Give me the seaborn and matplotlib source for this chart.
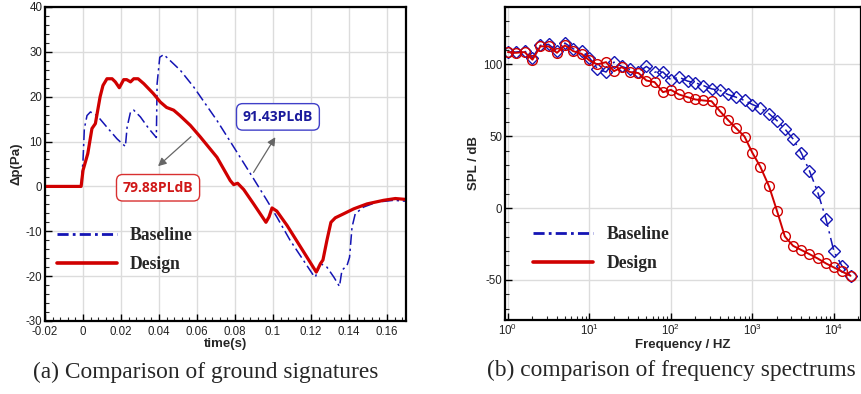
import numpy as np
import pandas as pd
import matplotlib
matplotlib.use("Agg")
import matplotlib.pyplot as plt
import matplotlib.ticker as mticker
from matplotlib.lines import Line2D
import seaborn as sns

# ground signatures (a)
t_design = [-0.02, -0.001, 0.0, 0.0025, 0.0047, 0.0065, 0.009, 0.0105, 0.0126, 0.0153,
            0.017, 0.0191, 0.0214, 0.023, 0.025, 0.0267, 0.029, 0.032, 0.037, 0.0407,
            0.044, 0.0477, 0.051, 0.0565, 0.0618, 0.0705, 0.0775, 0.0793, 0.0814, 0.0846,
            0.0898, 0.0963, 0.0979, 0.0995, 0.102, 0.1074, 0.1228, 0.125, 0.1263, 0.1284,
            0.1305, 0.1328, 0.1372, 0.1425, 0.1495, 0.1582, 0.1644, 0.17]
dp_design = [0, 0, 3.6, 7.3, 12.9, 14, 20, 22.5, 24, 24,
             23.3, 22, 23.8, 23.8, 23.3, 24, 24, 22.9, 20.7, 18.8,
             17.6, 17, 15.8, 13.6, 11, 6.5, 1.3, 0.4, 0.7, -0.7,
             -3.9, -8, -6.8, -4.8, -5.5, -8.7, -19.1, -17.2, -16.4, -12,
             -8, -7, -6.1, -5, -3.9, -3.1, -2.7, -2.9]

t_base = [-0.02, -0.001, 0.0, 0.0007, 0.0021, 0.0039, 0.0074, 0.0126, 0.0179, 0.0223,
          0.0232, 0.025, 0.0267, 0.0302, 0.0346, 0.0386, 0.039, 0.0404, 0.0425, 0.0512,
          0.0582, 0.0705, 0.0793, 0.0898, 0.0968, 0.102, 0.109, 0.1214, 0.1223, 0.125,
          0.1284, 0.132, 0.135, 0.1363, 0.139, 0.1403, 0.1416, 0.1433, 0.1477, 0.1547,
          0.1635, 0.17]
dp_base = [0, 0, 5.8, 12.9, 15.8, 16.6, 15.8, 13.2, 10.6, 8.9,
           13.2, 16.6, 17, 15.5, 12.9, 10.9, 22.9, 28.8, 29.4, 25.9,
           22.2, 14.7, 8.8, 1.7, -3.1, -6.8, -12, -19.9, -20.2, -17.2,
           -18, -20.2, -22.3, -18.7, -17.6, -15.8, -9.1, -6.1, -4.6, -3.5,
           -3.1, -3.3]

# frequency spectrums (b), 1/3 octave bands
freq = [1, 1.25, 1.6, 2, 2.5, 3.15, 4, 5, 6.3, 8, 10, 12.5, 16, 20, 25, 31.5, 40, 50,
        63, 80, 100, 125, 160, 200, 250, 315, 400, 500, 630, 800, 1000, 1250, 1600,
        2000, 2500, 3150, 4000, 5000, 6300, 8000, 10000, 12500, 16000]
spl_base = [108.6, 108.6, 109.3, 104.7, 113.3, 114, 109.3, 114.9, 110.9, 109.3,
            104.7, 97, 94.7, 101.6, 98.6, 96.5, 94.7, 98.6, 94.7, 94.7,
            89.3, 91.2, 88.4, 87.2, 85.3, 83, 81.9, 79.1, 77.2, 74.9,
            72.1, 69.8, 65.6, 60.9, 55.1, 48.1, 38.1, 26, 11.4, -7.7,
            -30.2, -40.2, -47.2]
spl_design = [108.6, 108.1, 108.6, 103.3, 112.6, 112.6, 108.1, 113.3, 109.3, 107.4,
              102.8, 100, 101.6, 95.3, 98.1, 94.7, 94, 88.8, 87.7, 80.7,
              82.3, 79.1, 77.2, 75.6, 74.9, 74.4, 67.4, 61.4, 55.6, 49.8,
              38.4, 28.8, 15.1, -1.9, -19.8, -26.3, -29.3, -32.1, -35.1, -38.6,
              -41.4, -44.2, -47.2]

sns.set_theme(style="white")
plt.rcParams['font.family'] = ['Liberation Sans', 'DejaVu Sans']
plt.rcParams['axes.unicode_minus'] = False
plt.rcParams['xtick.direction'] = 'in'
plt.rcParams['ytick.direction'] = 'in'

BLUE = '#1414b4'
RED = '#d00000'
serif_bold = {'family': 'Liberation Serif', 'weight': 'bold', 'size': 12.7}

fig = plt.figure(figsize=(8.61, 3.94), dpi=100)
ax1 = fig.add_axes([0.0523, 0.1853, 0.4192, 0.797])
ax2 = fig.add_axes([0.5865, 0.1878, 0.4135, 0.7944])

# ---- (a) ground signatures
sns.lineplot(x=t_base, y=dp_base, ax=ax1, color=BLUE, lw=1.1, estimator=None,
             linestyle=(0, (7, 2.5, 1.5, 2.5)))
sns.lineplot(x=t_design, y=dp_design, ax=ax1, color=RED, lw=2.3, estimator=None)

ax1.set_xlim(-0.02, 0.17)
ax1.set_ylim(-30, 40)
ax1.xaxis.set_major_locator(mticker.MultipleLocator(0.02))
ax1.xaxis.set_minor_locator(mticker.MultipleLocator(0.004))
ax1.yaxis.set_major_locator(mticker.MultipleLocator(10))
ax1.yaxis.set_minor_locator(mticker.MultipleLocator(2))
ax1.xaxis.set_major_formatter(mticker.FuncFormatter(lambda v, p: '%g' % round(v, 3)))
ax1.set_xlabel('time(s)', fontsize=9.5, fontweight='bold', labelpad=0)
ax1.set_ylabel('\u0394p(Pa)', fontsize=9.5, fontweight='bold', labelpad=2)

ax1.annotate('', xy=(0.102, 11.5), xytext=(0.089, 2.6),
             arrowprops=dict(arrowstyle='-|>', color='#666666', lw=0.9, mutation_scale=12))
ax1.annotate('', xy=(0.0384, 4.1), xytext=(0.0579, 11.5),
             arrowprops=dict(arrowstyle='-|>', color='#666666', lw=0.9, mutation_scale=12))
ax1.text(0.1026, 15.5, '91.43PLdB', color='#1a1a9c', fontsize=10, fontweight='bold',
         ha='center', va='center', family=['Open Sans', 'DejaVu Sans'],
         bbox=dict(boxstyle='round,pad=0.45', fc='white', ec='#4040c8', lw=1))
ax1.text(0.0395, -0.3, '79.88PLdB', color='#d01818', fontsize=10, fontweight='bold',
         ha='center', va='center', family=['Open Sans', 'DejaVu Sans'],
         bbox=dict(boxstyle='round,pad=0.45', fc='white', ec='#d83030', lw=1))

# ---- (b) frequency spectrums
sns.lineplot(x=freq, y=spl_base, ax=ax2, color=BLUE, lw=1.1, estimator=None,
             linestyle=(0, (8, 3, 1.5, 3)), marker='D', markersize=6,
             markerfacecolor='none', markeredgecolor=BLUE, markeredgewidth=1)
sns.lineplot(x=freq, y=spl_design, ax=ax2, color=RED, lw=1.4, estimator=None,
             marker='o', markersize=7, markerfacecolor='none',
             markeredgecolor=RED, markeredgewidth=1)
ax2.set_xscale('log')
ax2.set_xlim(0.92, 2.15e4)
ax2.set_ylim(-78, 140)
ax2.yaxis.set_major_locator(mticker.MultipleLocator(50))
ax2.yaxis.set_minor_locator(mticker.MultipleLocator(10))
ax2.xaxis.set_major_locator(mticker.LogLocator(base=10, numticks=10))
ax2.xaxis.set_minor_locator(mticker.LogLocator(base=10, subs=np.arange(2, 10), numticks=20))
ax2.set_xlabel('Frequency / HZ', fontsize=9.5, fontweight='bold', labelpad=1)
ax2.set_ylabel('SPL / dB', fontsize=9.5, fontweight='bold', labelpad=2)

for ax in (ax1, ax2):
    ax.grid(True, which='major', color='#dcdcdc', lw=1)
    ax.set_axisbelow(True)
    for s in ax.spines.values():
        s.set_color('black')
        s.set_linewidth(1.6)
    ax.tick_params(which='major', length=5, width=1, labelsize=8.3, pad=2,
                   bottom=True, left=True, top=False, right=False, colors='black',
                   labelcolor='#222222')
    ax.tick_params(which='minor', length=3, width=0.8, bottom=True, left=True,
                   top=False, right=False)
ax1.tick_params(axis='x', which='major', pad=3.5)

handles = [Line2D([], [], color=BLUE, lw=2, linestyle=(0, (4, 1.5, 1, 1.5))),
           Line2D([], [], color=RED, lw=2.6)]
for ax, x0 in ((ax1, 0.033), (ax2, 0.079)):
    ax.legend(handles, ['Baseline', 'Design'], loc='upper left',
              bbox_to_anchor=(x0, 0.30), frameon=False, prop=serif_bold,
              handlelength=3.4, handletextpad=0.75, labelspacing=0.7,
              borderpad=0, borderaxespad=0)

fig.text(0.239, 0.056, '(a) Comparison of ground signatures', ha='center', va='center',
         fontsize=16.8, family=['Liberation Serif', 'DejaVu Serif'])
fig.text(0.780, 0.061, '(b) comparison of frequency spectrums', ha='center', va='center',
         fontsize=16.8, family=['Liberation Serif', 'DejaVu Serif'])

fig.savefig('out.png', dpi=100)
